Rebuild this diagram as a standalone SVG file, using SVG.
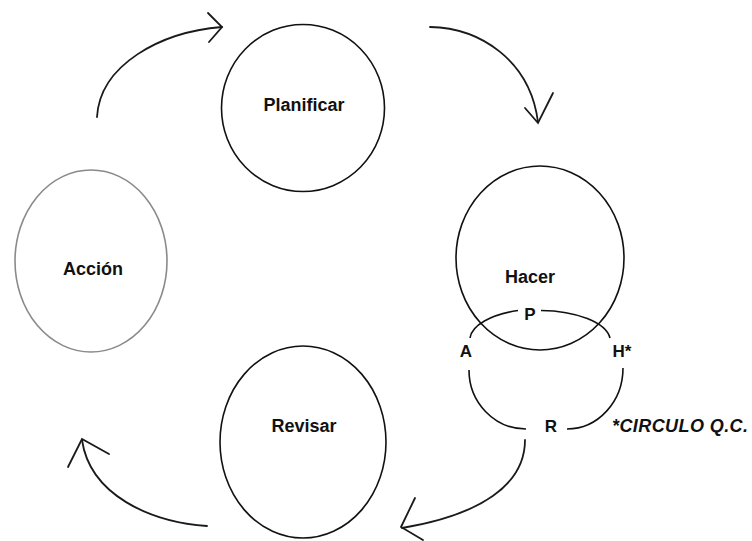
<svg xmlns="http://www.w3.org/2000/svg" width="752" height="541" viewBox="0 0 752 541">
<style>
.c{fill:none;stroke:#111;stroke-width:1.6}
.g{fill:none;stroke:#8a8a8a;stroke-width:1.6}
.l{fill:none;stroke:#1a1a1a;stroke-width:1.8;stroke-linecap:round;stroke-linejoin:miter}
.t{font-family:"Liberation Sans",Arial,sans-serif;font-weight:bold;font-size:18px;fill:#111;text-anchor:middle}
.s{font-family:"Liberation Sans",Arial,sans-serif;font-weight:bold;font-size:17px;fill:#111;text-anchor:middle}
.n{font-family:"Liberation Sans",Arial,sans-serif;font-weight:bold;font-style:italic;font-size:18px;fill:#111}
</style>
<rect width="752" height="541" fill="#fff"/>
<g id="planificar">
<ellipse class="c" cx="303" cy="108" rx="81.5" ry="83.5"/>
<text class="t" x="304" y="111">Planificar</text>
</g>
<g id="hacer">
<ellipse class="c" cx="540" cy="258" rx="84" ry="92"/>
<text class="t" x="530" y="283">Hacer</text>
</g>
<g id="revisar">
<ellipse class="c" cx="303" cy="442" rx="83" ry="96"/>
<text class="t" x="304" y="432">Revisar</text>
</g>
<g id="accion">
<ellipse class="g" cx="91" cy="261" rx="76" ry="91"/>
<text class="t" x="93" y="275">Acción</text>
</g>
<g id="circulo-qc">
<path class="c" d="M470 338 A71 31 0 0 1 518 310.5"/>
<path class="c" d="M541 310.5 A71 31 0 0 1 610 338"/>
<path class="c" d="M469 370 A57 59 0 0 0 526 429"/>
<path class="c" d="M623 368 A56 61 0 0 1 567 429"/>
<text class="s" x="530" y="320">P</text>
<text class="s" x="466" y="357">A</text>
<text class="s" x="622" y="357">H*</text>
<text class="s" x="551" y="432">R</text>
<text class="n" x="612" y="432" textLength="136" lengthAdjust="spacing">*CIRCULO Q.C.</text>
</g>
<g id="connectors">
<path class="l" d="M97 117 C100 65 160 32 222 27"/>
<polyline class="l" points="208,13 222,27 209,42"/>
<path class="l" d="M430 27 C480 28 530 60 538 122"/>
<polyline class="l" points="525,108 538,123 553,93"/>
<path class="l" d="M525 440 C525 485 480 515 402 528"/>
<polyline class="l" points="415,498 401,527 423,540"/>
<path class="l" d="M207 526 C150 522 90 495 82 440"/>
<polyline class="l" points="68,467 82,439 109,454"/>
</g>
</svg>
